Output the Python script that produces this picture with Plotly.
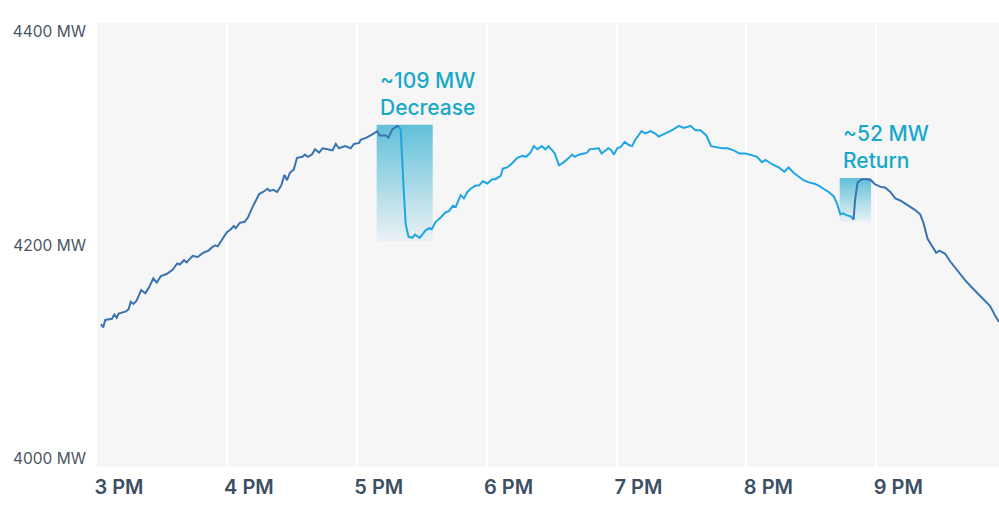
import pandas as pd
import plotly.graph_objects as go

# minutes after 3 PM and load in MW
MINUTES = [
    1.8, 2.9, 3.8, 6.9, 8.0, 9.1, 10.0, 13.4, 14.6, 15.6, 16.8, 18.3, 20.4, 22.3, 23.9,
    26.0, 27.6, 29.5, 32.2, 34.9, 37.1, 38.3, 40.2, 41.4, 44.2, 46.5, 49.1, 51.5, 53.1,
    54.6, 55.8, 57.7, 59.9, 61.8, 63.2, 64.1, 66.0, 68.2, 69.7, 71.9, 73.4, 74.9, 76.7,
    78.8, 79.8, 81.4, 83.2, 85.1, 86.6, 87.8, 89.1, 90.9, 92.4, 94.9, 96.1, 97.4, 99.2,
    100.7, 102.6, 104.2, 106.5, 108.8, 110.3, 111.8, 114.6, 117.2, 118.7, 121.1, 121.8,
    124.5, 127.2, 129.5, 130.6, 133.4, 134.6, 136.5, 138.8, 139.5,
    140.3, 141.8, 142.6, 143.9, 145.7, 146.9, 149.1, 151.8, 153.4, 154.6, 156.5, 158.8,
    161.1, 162.6, 164.4, 165.7, 168.0, 169.5, 171.1, 172.6, 174.9, 176.4, 178.3, 180.3,
    182.6, 184.1, 186.5, 187.5, 189.5, 191.8, 194.2, 196.5, 198.3, 200.3, 201.8, 203.4,
    205.4, 207.2, 208.5, 210.3, 211.5, 213.4, 215.7, 218.0, 219.5, 220.7, 222.6, 224.9,
    226.5, 227.5, 231.8, 233.1, 234.9, 236.2, 237.7, 238.8, 240.3, 241.8, 243.8, 245.7,
    247.2, 248.4, 251.5, 253.4, 255.7, 257.7, 259.5, 262.6, 265.7, 268.8, 271.1, 274.2,
    276.5, 278.8, 281.5, 283.7, 286.5, 288.8, 291.4, 294.1, 296.9, 299.5, 301.8, 304.9,
    307.2, 308.8, 311.9, 314.9, 317.5, 319.5, 321.8, 324.6, 326.4, 328.8, 331.1, 333.4,
    335.7, 338.0, 340.3, 341.9, 343.4, 344.6, 346.5, 348.3, 349.5,
    350.3, 351.4, 353.4, 355.7, 357.5, 359.5, 361.8, 364.2, 366.5, 368.8, 371.1, 373.4,
    375.7, 378.0, 380.3, 381.8, 383.7, 385.7, 387.7, 389.2, 391.8, 394.1, 396.4, 398.8,
    401.1, 403.4, 405.7, 408.0, 410.3, 412.6, 414.9, 416.7,
]
LOAD_MW = [
    4126, 4123, 4130, 4131, 4135, 4132, 4136, 4138, 4140, 4147, 4145, 4148, 4158, 4155, 4160,
    4169, 4165, 4171, 4173, 4177, 4183, 4182, 4186, 4184, 4190, 4189, 4193, 4195, 4198,
    4200, 4199, 4205, 4212, 4215, 4218, 4216, 4221, 4222, 4226, 4236, 4242, 4248, 4250,
    4253, 4251, 4252, 4250, 4256, 4266, 4261, 4268, 4271, 4282, 4283, 4285, 4283, 4285,
    4290, 4287, 4291, 4290, 4289, 4295, 4291, 4293, 4291, 4295, 4296, 4299,
    4301, 4304, 4307, 4303, 4303, 4301, 4309, 4312, 4311,
    4308, 4248, 4220, 4208, 4207, 4210, 4207, 4214, 4216, 4215, 4222, 4226,
    4231, 4232, 4237, 4236, 4247, 4244, 4250, 4253, 4256, 4256, 4260, 4258,
    4262, 4262, 4265, 4272, 4273, 4277, 4282, 4284, 4283, 4287, 4293, 4290,
    4293, 4290, 4293, 4289, 4286, 4275, 4278, 4282, 4285, 4283, 4285, 4286,
    4287, 4290, 4291, 4286, 4289, 4291, 4289, 4285, 4291, 4292, 4297, 4294,
    4293, 4298, 4307, 4305, 4307, 4305, 4302, 4305, 4308, 4312, 4310, 4312,
    4308, 4308, 4303, 4293, 4292, 4291, 4291, 4289, 4286, 4286, 4285, 4283,
    4278, 4280, 4276, 4273, 4269, 4273, 4268, 4264, 4261, 4259, 4258, 4256,
    4253, 4250, 4246, 4239, 4229, 4230, 4228, 4227, 4224,
    4244, 4259, 4262, 4262, 4261, 4257, 4255, 4254, 4250, 4244, 4242, 4239,
    4236, 4233, 4229, 4221, 4206, 4200, 4193, 4195, 4192, 4185, 4179, 4173,
    4167, 4162, 4157, 4153, 4148, 4143, 4134, 4128,
]

# the event: load drops after DROP_START, comes back at RETURN_END
DROP_START = 139.5
RETURN_END = 349.5

# highlighted windows: (start min, end min, low MW, high MW, label)
HIGHLIGHTS = [
    (129.2, 155.1, 4204, 4313, "~109 MW<br>Decrease"),
    (343.1, 357.6, 4222, 4263, "~52 MW<br>Return"),
]

Y_TICKS = [4000, 4200, 4400]

DARK = "#3a74b0"
LIGHT = "#1ea6e2"
LABEL = "#17a8c9"

start = pd.Timestamp("2024-01-01 15:00")
df = pd.DataFrame({"t": [start + pd.Timedelta(minutes=m) for m in MINUTES],
                   "mw": LOAD_MW, "m": MINUTES})

fig = go.Figure()

for x0, x1, lo, hi, text in HIGHLIGHTS:
    t0 = start + pd.Timedelta(minutes=x0)
    t1 = start + pd.Timedelta(minutes=x1)
    fig.add_trace(go.Scatter(
        x=[t0, t1, t1, t0, t0], y=[lo, lo, hi, hi, lo],
        mode="lines", line=dict(width=0), fill="toself",
        fillgradient=dict(type="vertical", colorscale=[
            [0, "rgba(60,178,210,0.06)"], [1, "rgba(60,178,210,0.8)"]]),
        hoverinfo="skip",
    ))
    fig.add_annotation(
        x=t0, y=hi, text=text, showarrow=False, xanchor="left", yanchor="bottom",
        align="left", xshift=1, yshift=3,
        font=dict(family="Inter", size=21, color=LABEL, weight=500),
    )

before = df[df.m <= DROP_START]
during = df[(df.m >= DROP_START) & (df.m <= RETURN_END)]
after = df[df.m >= RETURN_END]
for part, color in [(before, DARK), (during, LIGHT), (after, DARK)]:
    fig.add_trace(go.Scatter(x=part.t, y=part.mw, mode="lines",
                             line=dict(color=color, width=2)))

fig.update_layout(
    width=999, height=506,
    margin=dict(l=97, r=0, t=23, b=39),
    paper_bgcolor="white", plot_bgcolor="#f6f6f6",
    showlegend=False,
    font=dict(family="Inter"),
)
fig.update_xaxes(
    range=[start, start + pd.Timedelta(minutes=416.7)],
    tick0=start, dtick=3600000, tickformat="%-I %p",
    showgrid=True, gridcolor="white", gridwidth=2, zeroline=False,
    ticks="", ticklabelshift=22, ticklabelstandoff=6,
    tickfont=dict(family="Inter", size=20, color="#3d4f63", weight=600),
)
fig.update_yaxes(
    range=[3992, 4408.5], tickvals=Y_TICKS,
    ticktext=[f"{v} MW" for v in Y_TICKS],
    showgrid=False, zeroline=False, ticks="", ticklabelstandoff=10,
    tickfont=dict(family="Inter", size=15.5, color="#4a5563"),
)

fig.write_html("out.html", config={"displayModeBar": False},
               post_script="document.body.style.margin='0';")
